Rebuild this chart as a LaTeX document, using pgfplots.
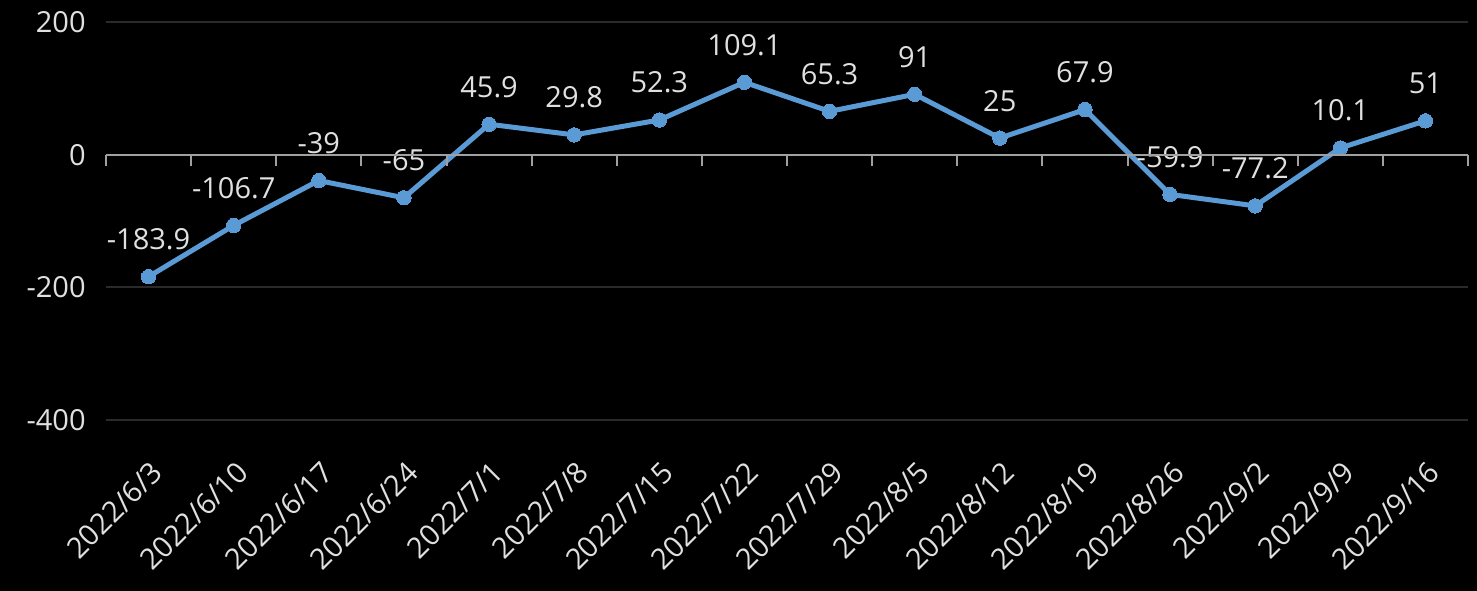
\documentclass[border=0pt]{standalone}
\usepackage{pgfplots}
\pgfplotsset{compat=1.18}
\usepackage{fontspec}
\setmainfont{Open Sans}
\definecolor{linec}{HTML}{5B9BD5}
\definecolor{txt}{HTML}{E0E0E0}
\definecolor{gridc}{HTML}{2A2A2A}
\definecolor{zeroc}{HTML}{A0A0A0}
\pgfplotstableread{
x y
0 -183.9
1 -106.7
2 -39
3 -65
4 45.9
5 29.8
6 52.3
7 109.1
8 65.3
9 91
10 25
11 67.9
12 -59.9
13 -77.2
14 10.1
15 51
}\datatable
\begin{document}
\begin{tikzpicture}
\fill[black] (0,0) rectangle (738.5bp,295.5bp);
\begin{axis}[
  at={(53bp,85.5bp)}, anchor=south west,
  width=681bp, height=199bp, scale only axis,
  xmin=-0.5, xmax=15.5, ymin=-400, ymax=200,
  ytick={-400,-200,0,200},
  yticklabels={-400,-200,0,200},
  ymajorgrids, grid style={gridc, line width=1bp},
  axis line style={draw=none},
  major tick length=0pt,
  xtick={0,...,15},
  xticklabels={2022/6/3,2022/6/10,2022/6/17,2022/6/24,2022/7/1,2022/7/8,2022/7/15,2022/7/22,2022/7/29,2022/8/5,2022/8/12,2022/8/19,2022/8/26,2022/9/2,2022/9/9,2022/9/16},
  font=\fontsize{14.5bp}{17bp}\selectfont,
  tick label style={text=txt, inner sep=0pt},
  yticklabel style={anchor=east, xshift=-10bp},
  xticklabel style={xshift=4.5bp, yshift=-23.5bp, rotate=45, anchor=east},
  clip=false,
]
\addplot[linec, line width=2.5bp, mark=*, mark size=3.6bp,
  mark options={fill=linec, draw=none, line width=0pt},
  nodes near coords, point meta=explicit symbolic,
  every node near coord/.style={anchor=base, yshift=13.5bp, inner sep=0pt, text=txt, font=\fontsize{14.5bp}{17bp}\selectfont}]
  table[x=x, y=y, meta=y] {\datatable};
\end{axis}
\begin{axis}[
  at={(53bp,85.5bp)}, anchor=south west,
  width=681bp, height=199bp, scale only axis,
  xmin=-0.5, xmax=15.5, ymin=-400, ymax=200,
  axis x line*=middle, axis y line=none,
  xtick={-0.5,0.5,...,15.5}, xticklabels={}, ytick=\empty,
  axis line style={zeroc, line width=1bp},
  x tick style={zeroc, line width=1bp},
  major tick length=5.5bp, tick align=outside,
]
\end{axis}
\pgfresetboundingbox
\path (0,0) rectangle (738.5bp,295.5bp);
\end{tikzpicture}
\end{document}
